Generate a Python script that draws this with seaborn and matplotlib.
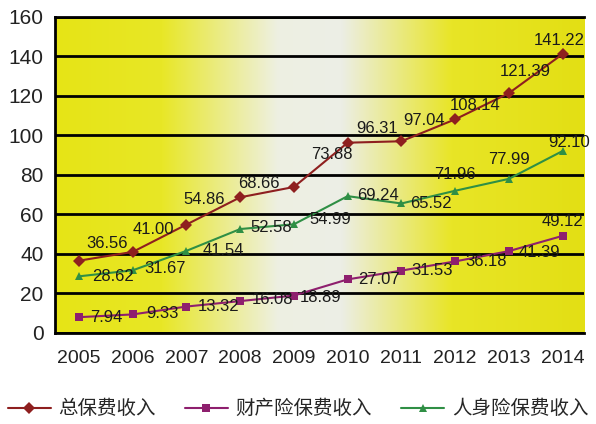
import numpy as np
import pandas as pd
import matplotlib
matplotlib.use('Agg')
import matplotlib.pyplot as plt
from matplotlib.colors import LinearSegmentedColormap
import seaborn as sns

# data
years = ['2005', '2006', '2007', '2008', '2009', '2010', '2011', '2012', '2013', '2014']
total = [36.56, 41.00, 54.86, 68.66, 73.88, 96.31, 97.04, 108.14, 121.39, 141.22]
property_ins = [7.94, 9.33, 13.32, 16.08, 18.89, 27.07, 31.53, 36.18, 41.39, 49.12]
life_ins = [28.62, 31.67, 41.54, 52.58, 54.99, 69.24, 65.52, 71.96, 77.99, 92.10]
names = ['总保费收入', '财产险保费收入', '人身险保费收入']

sns.set_style('white')
plt.rcParams['font.family'] = ['Liberation Sans', 'Noto Sans CJK SC', 'DejaVu Sans']

df = pd.DataFrame({
    'idx': list(range(len(years))) * 3,
    'value': total + property_ins + life_ins,
    'series': [names[0]] * 10 + [names[1]] * 10 + [names[2]] * 10,
})

colors = {names[0]: '#8e1f1f', names[1]: '#8e1f6e', names[2]: '#2f8f45'}
markers = {names[0]: 'D', names[1]: 's', names[2]: '^'}

fig = plt.figure(figsize=(5.96, 4.24), dpi=100)
ax = fig.add_axes([0.092, 0.215, 0.888, 0.745])

# yellow - white - yellow backdrop
cmap = LinearSegmentedColormap.from_list('bg', [
    (0.0, '#e6e416'), (0.2, '#e8e726'), (0.42, '#eef0e2'),
    (0.54, '#eceee6'), (0.75, '#e8e526'), (1.0, '#e3df14')])
grad = np.linspace(0, 1, 256).reshape(1, -1)
ax.imshow(grad, cmap=cmap, aspect='auto', extent=[-0.45, 9.4, 0, 160], zorder=0)

sns.lineplot(data=df, x='idx', y='value', hue='series', style='series',
             palette=colors, markers=markers, dashes=False, markersize=6,
             markeredgewidth=0, linewidth=1.5, ax=ax, zorder=3, legend=False)

# label offsets in pixels (dx, dy)
offs = {
    names[0]: [(28, 17), (21, 22), (18, 25), (19, 14), (38, 32),
               (29, 14), (23, 21), (20, 14), (16, 22), (-3, 14)],
    names[1]: [(27, 0), (30, 1), (32, 0), (32, 2), (27, -2),
               (31, 0), (31, 0), (31, 0), (31, -1), (0, 14)],
    names[2]: [(34, 0), (32, 2), (37, 0), (31, 2), (36, 5),
               (30, 1), (30, 0), (0, 16), (0, 19), (7, 9)],
}
for name, vals in zip(names, [total, property_ins, life_ins]):
    for i, v in enumerate(vals):
        ax.annotate(f'{v:.2f}', (i, v), xytext=offs[name][i],
                    textcoords='offset pixels', ha='center', va='center',
                    fontsize=12, color='#1a1a1a', zorder=5)

ax.set_xlim(-0.45, 9.4)
ax.set_ylim(0, 160)
ax.set_yticks(range(0, 161, 20))
ax.set_xticks(range(len(years)))
ax.set_xticklabels(years)
ax.set_xticks(np.arange(0.5, 9, 1), minor=True)
ax.grid(axis='y', color='black', linewidth=2, zorder=1)
ax.set_axisbelow(False)
for ln in ax.get_ygridlines():
    ln.set_zorder(1)
ax.tick_params(axis='x', which='major', length=0, pad=12, labelsize=14, colors='#222222')
ax.tick_params(axis='x', which='minor', length=6, width=2, direction='in', color='black')
ax.tick_params(axis='y', length=0, pad=8, labelsize=15, colors='#222222')
ax.set_xlabel('')
ax.set_ylabel('')
for s in ['left', 'bottom', 'top']:
    ax.spines[s].set_color('black')
    ax.spines[s].set_linewidth(2)
ax.spines['right'].set_visible(False)

handles = [plt.Line2D([], [], color=colors[n], marker=markers[n], markersize=6,
                      markeredgewidth=0, linewidth=1.5) for n in names]
fig.legend(handles, names, loc='center', bbox_to_anchor=(0.5, 0.035), ncol=3,
           frameon=False, fontsize=14, handlelength=2.2, columnspacing=1.5,
           handletextpad=0.4)

fig.savefig('out.png', dpi=100)
